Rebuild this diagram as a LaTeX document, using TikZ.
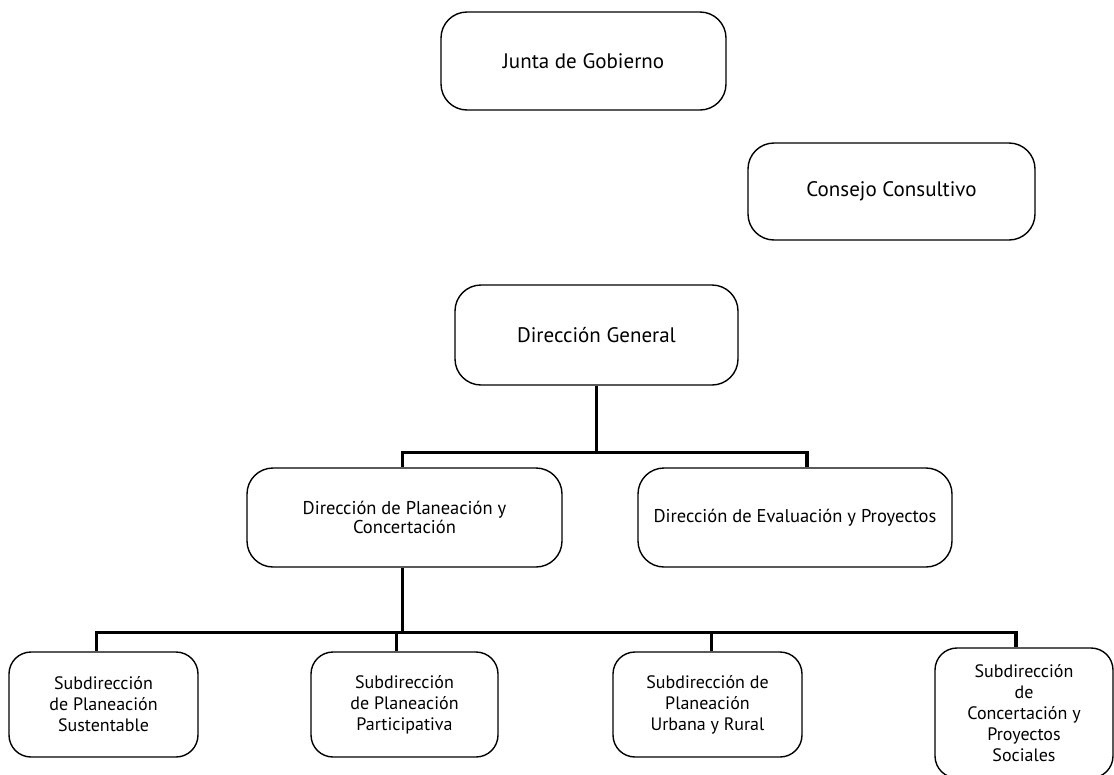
\documentclass[tikz,border=0pt]{standalone}
\usepackage{fontspec}
\setmainfont{PT Sans}
\usetikzlibrary{positioning,calc}

\begin{document}
\begin{tikzpicture}[
  x=1pt, y=-1pt,
  caja/.style={draw, line width=1.4pt, rounded corners=26pt, align=center,
               inner sep=0pt, font=\fontsize{18.5}{19}\selectfont},
  tope/.style={caja, font=\fontsize{21}{24}\selectfont},
  sub/.style={caja, minimum width=189pt, minimum height=105pt,
              rounded corners=22pt, font=\fontsize{18}{21}\selectfont},
  enlace/.style={line width=3.2pt}]
  \clip (0,0) rectangle (1114,774);
  \node[tope, minimum width=285pt, minimum height=98pt] (jg) at (583.5,61) {Junta de Gobierno};
  \node[tope, minimum width=287pt, minimum height=97pt] (cc) at (891.5,191.5) {Consejo Consultivo};
  \node[tope, minimum width=283pt, minimum height=100pt] (dg) at (596.5,335) {Dirección General};
  \node[caja, minimum width=315pt, minimum height=99pt] (dpc) at (404.5,517.5) {Dirección de Planeación y\\ Concertación};
  \node[caja, minimum width=314pt, minimum height=99pt] (dep) at (795,517.5) {Dirección de Evaluación y Proyectos};
  \node[sub] (s1) at (103.5,704.5) {Subdirección\\ de Planeación\\ Sustentable};
  \node[sub, minimum width=187pt] (s2) at (404.5,704.5) {Subdirección\\ de Planeación\\ Participativa};
  \node[sub] (s3) at (707.5,704.5) {Subdirección de\\ Planeación\\ Urbana y Rural};
  \node[sub, minimum width=178pt, minimum height=130pt] (s4) at (1024,713) {Subdirección\\ de\\ Concertación y\\ Proyectos\\ Sociales};
  \coordinate (bus1) at ($(dg.south)+(0,67)$);
  \coordinate (bus2) at ($(dpc.south)+(0,65)$);
  \draw[enlace] (dg.south) -- (bus1);
  \draw[enlace] (bus1) -| ([xshift=-2pt]dpc.north);
  \draw[enlace] (bus1) -| ([xshift=12pt]dep.north);
  \draw[enlace] ([xshift=-2pt]dpc.south) -- ([xshift=-2pt]bus2);
  \draw[enlace] ([xshift=-2pt]bus2) -| ([xshift=-7pt]s1.north);
  \draw[enlace] ([xshift=-2pt]bus2) -| ([xshift=-8pt]s2.north);
  \draw[enlace] ([xshift=-2pt]bus2) -| ([xshift=4pt]s3.north);
  \draw[enlace] ([xshift=-2pt]bus2) -| ([xshift=-8pt]s4.north);
\end{tikzpicture}
\end{document}
